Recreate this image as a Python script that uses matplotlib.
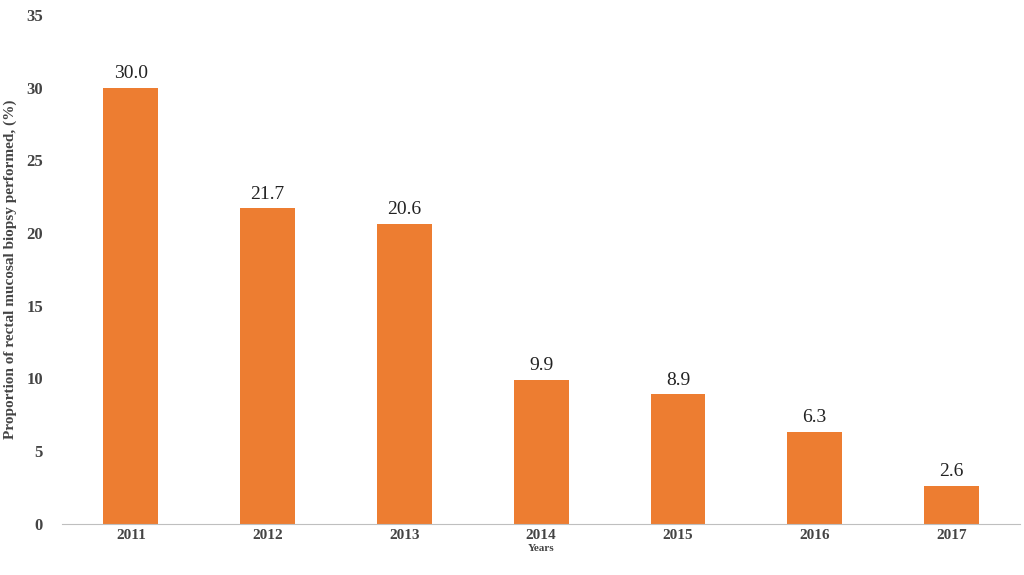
import matplotlib.pyplot as plt

years = ['2011', '2012', '2013', '2014', '2015', '2016', '2017']
proportions = [30.0, 21.7, 20.6, 9.9, 8.9, 6.3, 2.6]

plt.rcParams['font.family'] = 'Liberation Serif'

fig = plt.figure(figsize=(10.24, 5.75), dpi=100)
ax = fig.add_axes([0.061, 0.089, 0.935, 0.885])

x = range(len(years))
bars = ax.bar(x, proportions, width=0.4, color='#ED7D31')
for xi, v in zip(x, proportions):
    ax.text(xi, v + 0.4, f'{v:.1f}', ha='center', va='bottom', fontsize=14, color='#222222')

ax.set_xlim(-0.5, len(years) - 0.5)
ax.set_ylim(0, 35)
ax.set_yticks(range(0, 36, 5))
ax.set_xticks(list(x))
ax.set_xticklabels(years, fontweight='bold', fontsize=11, color='#444444')
for lbl in ax.get_yticklabels():
    lbl.set_fontweight('bold')
    lbl.set_fontsize(12)
    lbl.set_color('#444444')
ax.tick_params(axis='both', length=0)
ax.tick_params(axis='y', pad=14)

for s in ['top', 'right', 'left']:
    ax.spines[s].set_visible(False)
ax.spines['bottom'].set_color('#bfbfbf')

ax.set_ylabel('Proportion of rectal mucosal biopsy performed, (%)', fontweight='bold',
              fontsize=11, color='#444444')
ax.yaxis.set_label_coords(-0.047, 0.5)
ax.set_xlabel('Years', fontweight='bold', fontsize=8, color='#444444', labelpad=2)

fig.savefig('out.png', dpi=100)
